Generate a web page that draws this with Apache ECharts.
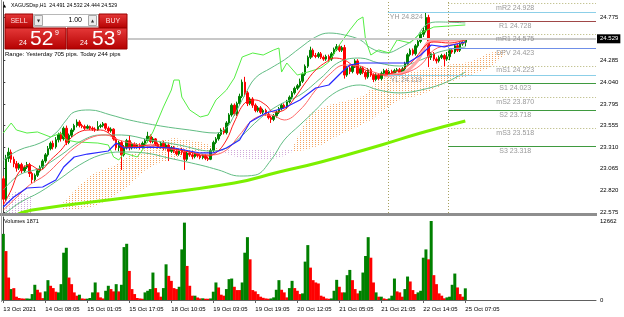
<!DOCTYPE html>
<html><head><meta charset="utf-8">
<script src="https://cdn.jsdelivr.net/npm/echarts@6/dist/echarts.min.js"></script>
<style>html,body{margin:0;padding:0;background:#fff}#c{width:624px;height:317px}</style>
</head><body><div id="c"></div>
<script>
// ---------------- DATA ----------------
const tickLabels = ['13 Oct 2021','14 Oct 08:05','15 Oct 01:05','15 Oct 17:05','18 Oct 10:05','19 Oct 03:05','19 Oct 19:05','20 Oct 12:05','21 Oct 05:05','21 Oct 21:05','22 Oct 14:05','25 Oct 07:05'];
const barsPerLabel = 16;
const priceTicks = [24.775,24.285,24.040,23.795,23.555,23.310,23.065,22.820,22.575];
const lastPrice = 24.529;
const volumeMaxLabel = 12662;
// candles: [open, close, low, high]
const candles = [
[22.95,22.72,22.66,22.98],[22.72,23.18,22.70,23.22],[23.18,23.25,23.14,23.30],[23.25,23.17,23.13,23.28],[23.17,23.12,23.08,23.20],
[23.12,23.07,23.03,23.15],[23.07,23.11,23.05,23.13],[23.11,23.04,23.01,23.13],[23.04,23.08,23.02,23.10],[23.08,23.11,23.06,23.14],
[23.11,23.01,22.97,23.13],[23.01,22.94,22.90,23.03],[22.94,22.99,22.91,23.01],[22.99,23.04,22.97,23.06],[23.04,23.08,23.02,23.10],
[23.08,23.15,23.06,23.17],[23.15,23.22,23.13,23.24],[23.22,23.29,23.20,23.32],[23.29,23.35,23.27,23.37],[23.35,23.31,23.28,23.38],
[23.31,23.39,23.29,23.42],[23.39,23.45,23.36,23.47],[23.45,23.40,23.37,23.48],[23.40,23.52,23.38,23.54],[23.52,23.36,23.33,23.55],
[23.36,23.44,23.34,23.46],[23.44,23.50,23.42,23.52],[23.50,23.55,23.48,23.57],[23.55,23.59,23.53,23.62],[23.59,23.55,23.53,23.61],
[23.55,23.54,23.52,23.57],[23.54,23.52,23.50,23.56],[23.52,23.54,23.51,23.56],[23.54,23.52,23.50,23.55],[23.52,23.51,23.49,23.54],
[23.51,23.50,23.48,23.53],[23.50,23.54,23.49,23.60],[23.54,23.55,23.52,23.57],[23.55,23.57,23.53,23.59],[23.57,23.52,23.50,23.58],
[23.52,23.49,23.47,23.54],[23.49,23.51,23.47,23.53],[23.51,23.40,23.38,23.52],[23.40,23.30,23.27,23.42],[23.30,23.36,23.26,23.38],
[23.36,23.22,23.05,23.38],[23.22,23.30,23.20,23.33],[23.30,23.38,23.28,23.40],[23.38,23.30,23.27,23.44],[23.30,23.34,23.28,23.36],
[23.34,23.31,23.29,23.36],[23.31,23.33,23.29,23.35],[23.33,23.31,23.28,23.35],[23.31,23.35,23.29,23.37],[23.35,23.38,23.33,23.40],
[23.38,23.43,23.36,23.48],[23.43,23.37,23.35,23.45],[23.37,23.40,23.35,23.42],[23.40,23.34,23.32,23.41],[23.34,23.31,23.29,23.36],
[23.31,23.35,23.29,23.37],[23.35,23.30,23.27,23.38],[23.30,23.33,23.28,23.35],[23.33,23.26,23.15,23.35],[23.26,23.30,23.24,23.32],
[23.30,23.26,23.24,23.32],[23.26,23.23,23.21,23.28],[23.23,23.27,23.21,23.29],[23.27,23.25,23.22,23.30],[23.25,23.17,23.05,23.28],
[23.17,23.24,23.15,23.26],[23.24,23.22,23.20,23.26],[23.22,23.20,23.17,23.24],[23.20,23.23,23.18,23.25],[23.23,23.21,23.19,23.25],
[23.21,23.19,23.17,23.23],[23.19,23.21,23.17,23.23],[23.21,23.18,23.16,23.23],[23.18,23.17,23.15,23.20],[23.17,23.27,23.16,23.29],
[23.27,23.36,23.25,23.38],[23.36,23.40,23.34,23.42],[23.40,23.45,23.38,23.47],[23.45,23.50,23.43,23.52],[23.50,23.47,23.45,23.53],
[23.47,23.58,23.45,23.60],[23.58,23.67,23.56,23.69],[23.67,23.78,23.65,23.80],[23.78,23.68,23.66,23.80],[23.68,23.80,23.66,23.82],
[23.80,23.88,23.78,23.91],[23.88,24.04,23.86,24.07],[24.04,23.92,23.88,24.10],[23.92,23.80,23.77,23.94],[23.80,23.85,23.78,23.87],
[23.85,23.78,23.75,23.87],[23.78,23.72,23.70,23.80],[23.72,23.75,23.70,23.77],[23.75,23.70,23.68,23.77],[23.70,23.72,23.68,23.74],
[23.72,23.68,23.66,23.74],[23.68,23.64,23.62,23.70],[23.64,23.62,23.58,23.66],[23.62,23.66,23.60,23.68],[23.66,23.70,23.64,23.72],
[23.70,23.74,23.68,23.76],[23.74,23.78,23.72,23.80],[23.78,23.76,23.74,23.80],[23.76,23.82,23.74,23.84],[23.82,23.87,23.80,23.89],
[23.87,23.92,23.85,23.94],[23.92,23.97,23.90,23.99],[23.97,24.00,23.95,24.02],[24.00,24.05,23.98,24.08],[24.05,24.13,24.03,24.15],
[24.13,24.22,24.11,24.24],[24.22,24.32,24.20,24.34],[24.32,24.40,24.30,24.44],[24.40,24.34,24.32,24.42],[24.34,24.33,24.31,24.37],
[24.33,24.36,24.31,24.38],[24.36,24.32,24.30,24.38],[24.32,24.30,24.28,24.34],[24.30,24.33,24.28,24.35],[24.33,24.30,24.27,24.35],
[24.30,24.36,24.28,24.38],[24.36,24.41,24.34,24.43],[24.41,24.44,24.39,24.47],[24.44,24.40,24.38,24.46],[24.40,24.43,24.38,24.45],
[24.43,24.12,24.08,24.46],[24.12,24.20,24.10,24.22],[24.20,24.16,24.13,24.22],[24.16,24.22,24.14,24.24],[24.22,24.28,24.20,24.30],
[24.28,24.14,24.12,24.30],[24.14,24.20,24.12,24.22],[24.20,24.15,24.13,24.22],[24.15,24.10,24.07,24.17],[24.10,24.18,24.08,24.20],
[24.18,24.12,24.10,24.20],[24.12,24.07,24.04,24.14],[24.07,24.12,24.05,24.14],[24.12,24.08,24.06,24.14],[24.08,24.14,24.06,24.16],
[24.14,24.17,24.12,24.19],[24.17,24.13,24.12,24.19],[24.13,24.16,24.12,24.18],[24.16,24.13,24.119,24.18],[24.13,24.17,24.12,24.19],
[24.17,24.18,24.15,24.20],[24.18,24.15,24.13,24.20],[24.15,24.19,24.13,24.21],[24.19,24.25,24.17,24.27],[24.25,24.35,24.23,24.37],
[24.35,24.40,24.33,24.42],[24.40,24.36,24.34,24.42],[24.36,24.45,24.34,24.47],[24.45,24.50,24.43,24.52],[24.50,24.58,24.48,24.60],
[24.58,24.62,24.55,24.66],[24.62,24.77,24.60,24.824],[24.77,24.32,24.21,24.80],[24.32,24.36,24.29,24.38],[24.36,24.30,24.28,24.38],
[24.30,24.28,24.25,24.32],[24.28,24.32,24.26,24.34],[24.32,24.34,24.30,24.36],[24.34,24.30,24.22,24.36],[24.30,24.326,24.28,24.38],
[24.326,24.40,24.288,24.42],[24.40,24.38,24.36,24.42],[24.38,24.45,24.36,24.47],[24.45,24.40,24.38,24.47],[24.40,24.47,24.38,24.49],
[24.47,24.491,24.45,24.52],[24.491,24.529,24.444,24.532]
];
const volumes = [
10600,7840,3600,1750,1900,530,320,250,220,250,
210,950,2440,1640,1220,300,1380,3180,2280,1910,
1330,1220,2540,7580,8370,3600,2540,1220,690,850,
250,200,210,320,1220,2810,1220,420,250,1480,
2280,1750,1380,2540,1380,2440,8480,9010,4660,1750,
950,320,250,200,1220,1480,1750,4400,1910,1220,
530,1910,5720,3870,3070,1910,1750,2120,8110,12400,
5460,2280,690,690,400,250,270,200,200,250,
1330,2810,2010,850,690,1750,3340,3440,2120,1590,
1590,2810,7580,10070,6520,1590,1380,950,530,350,
250,200,250,420,1640,3180,1640,1220,420,1910,
3070,1910,1480,950,1060,6150,8800,5190,3180,2810,
2650,690,530,250,200,250,1480,3230,2120,1220,
1220,3980,4820,3180,1750,1060,1480,4400,7050,10070,
6780,2810,1220,530,530,250,150,250,690,3440,
1380,1220,530,1750,3760,2970,1590,950,1220,1480,
6780,8110,6520,12662,3980,2540,1060,690,270,420,
530,2440,4240,2010,950,530,1871
];
const volDir = ('GRRGRRRRRG'+'GGGRRRGGRR'+'RGGGGRRRRG'+'RRGGGGRRRG'+'GRRGRGGGRR'+'RRRRGGGGRR'+'RGGRRRRGGG'+'RRRGRRGRRG'+'GGRRRGGGRR'+'RGGGRRRRRR'+'RRGGGGRRRG'+'GRRRGGGRRR'+'RRRRRGGGRR'+'GGGRRRGGGG'+'RRGRGRRGGG'+'RRRGGRRRGG'+'GGRGRRRRRG'+'GGGRRRG').split('');

// indicators: [barIndex, price]
const ma200 = [[4,22.530],[11,22.597],[49,22.744],[88,22.902],[105,23.026],[121,23.139],[144,23.331],[159,23.466],[176,23.601]];
const limeLine = [[0,23.466],[3,23.579],[5,23.500],[9,23.466],[13,23.478],[18,23.421],[22,23.466],[24,23.387],[28,23.365],[36,23.353],[40,23.331],[42,23.196],[44,23.162],[46,23.241],[51,23.196],[53,23.274],[57,23.478],[61,23.760],[64,23.951],[65,24.064],[67,24.064],[68,23.872],[71,23.726],[75,23.647],[78,23.669],[81,23.839],[85,23.951],[88,24.087],[91,24.324],[95,24.369],[99,24.346],[103,24.403],[105,24.425],[106,24.154],[108,24.256],[112,24.120],[116,24.154],[121,24.200],[124,24.267],[128,24.459],[132,24.628],[135,24.741],[137,24.775],[138,24.516],[140,24.346],[143,24.403],[147,24.369],[150,24.516],[155,24.482],[159,24.594],[164,24.662],[176,24.685]];
const bbUpper = [[0,23.162],[6,23.274],[14,23.353],[20,23.466],[24,23.613],[27,23.703],[33,23.726],[41,23.669],[48,23.613],[60,23.545],[71,23.500],[81,23.466],[85,23.523],[88,23.669],[92,23.895],[96,24.087],[102,24.200],[107,24.290],[113,24.425],[119,24.549],[124,24.594],[130,24.572],[136,24.516],[140,24.425],[146,24.369],[151,24.425],[157,24.538],[161,24.685],[166,24.719],[176,24.708]];
const bbMiddle = [[0,22.823],[6,22.992],[14,23.071],[22,23.218],[29,23.365],[37,23.444],[45,23.444],[56,23.387],[67,23.331],[79,23.263],[85,23.297],[90,23.410],[98,23.636],[105,23.782],[113,23.895],[121,24.087],[128,24.267],[136,24.312],[143,24.256],[151,24.222],[159,24.290],[166,24.380],[176,24.437]];
const bbLower = [[0,22.541],[6,22.676],[14,22.801],[22,22.959],[29,23.105],[37,23.218],[45,23.252],[54,23.241],[63,23.184],[75,23.105],[82,23.049],[90,22.981],[96,22.992],[102,23.162],[107,23.387],[113,23.557],[119,23.726],[124,23.872],[130,23.974],[136,24.008],[143,23.951],[151,23.918],[159,23.951],[168,24.030],[176,24.154]];
const blueLine = [[0,22.631],[4,22.744],[9,22.846],[15,22.857],[20,22.936],[23,23.083],[27,23.196],[32,23.229],[40,23.263],[43,23.353],[46,23.297],[56,23.308],[65,23.297],[75,23.241],[80,23.241],[85,23.297],[90,23.387],[94,23.590],[100,23.692],[107,23.748],[113,23.839],[119,23.974],[124,24.008],[129,24.154],[132,24.233],[136,24.256],[154,24.256],[159,24.346],[163,24.459],[168,24.437],[176,24.493]];
const redFast = [[0,22.653],[3,22.823],[6,23.026],[10,23.105],[14,23.049],[18,23.162],[22,23.274],[25,23.387],[29,23.478],[33,23.500],[37,23.500],[41,23.444],[44,23.331],[48,23.308],[56,23.331],[63,23.297],[71,23.252],[77,23.207],[81,23.241],[85,23.387],[88,23.590],[92,23.805],[96,23.839],[100,23.782],[103,23.703],[107,23.726],[111,23.861],[115,24.030],[119,24.177],[123,24.267],[126,24.312],[130,24.290],[134,24.211],[138,24.177],[142,24.120],[145,24.120],[149,24.154],[153,24.200],[157,24.312],[161,24.459],[164,24.493],[170,24.482],[176,24.516]];
const redSlow = [[0,22.597],[4,22.710],[10,22.880],[16,22.992],[22,23.162],[27,23.297],[33,23.410],[39,23.444],[44,23.387],[52,23.331],[61,23.297],[71,23.252],[79,23.218],[85,23.274],[90,23.444],[96,23.636],[102,23.669],[107,23.613],[113,23.726],[119,23.951],[124,24.120],[130,24.233],[136,24.222],[141,24.154],[147,24.120],[153,24.143],[159,24.233],[164,24.403],[170,24.459],[176,24.482]];
const salmonLine = [[145,24.109],[153,24.154],[158,24.290],[162,24.493],[168,24.516],[176,24.516]];
// cloud outlines: top edge then bottom edge (reversed)
const cloudOrange1 = [[22,22.653],[28,22.846],[34,23.004],[42,23.094],[47,23.196],[52,23.274],[59,23.376],[65,23.410],[75,23.365],[81,23.308],[83,23.274],
  [83,23.252],[75,23.207],[67,23.184],[60,23.139],[54,23.049],[48,22.880],[42,22.744],[35,22.642],[27,22.597],[22,22.597]];
const cloudOrange2 = [[110,23.285],[113,23.478],[117,23.692],[124,23.782],[132,23.839],[138,23.895],[142,24.042],[147,24.109],[159,24.177],[169,24.233],[178,24.267],[185,24.369],[191,24.403],
  [191,24.346],[185,24.200],[178,24.120],[170,24.042],[159,23.895],[151,23.839],[145,23.726],[140,23.613],[134,23.523],[128,23.444],[121,23.331],[115,23.274],[110,23.252]];
const cloudLav1 = [[1,22.767],[4.5,22.801],[8,22.789],[11,22.744],[11,22.55],[1,22.55]];
const cloudLav2 = [[83,23.274],[90,23.285],[98,23.274],[105,23.263],[110,23.285],[110,23.252],[105,23.184],[98,23.162],[90,23.184],[83,23.252]];
// pivots
const pivotNames = ['mR2','R1','mR1','DPV','mS1','S1','mS2','S2','mS3','S3'];
const pivotValues = [24.928,24.728,24.575,24.423,24.223,24.023,23.870,23.718,23.518,23.318];
const yesterdayHigh = 24.824, yesterdayLow = 24.119;
const dayStarts = [146.5, 169.5];

// ---------------- LAYOUT ----------------
const FONT = 'Liberation Sans';
const BAR_PX = 2.625, PLOT_W = 594;
const XMIN = -0.5, XMAX = XMIN + PLOT_W / BAR_PX;
const YMAX = 24.9442, YMIN = 22.5638;
const VMAX = volumeMaxLabel * 83 / 79;
const tickIdx = tickLabels.map((_, k) => k * barsPerLabel);

function dotPattern(color) {
  const c = document.createElement('canvas'); c.width = 3; c.height = 2;
  const g = c.getContext('2d'); g.fillStyle = color; g.fillRect(0, 0, 1, 1); return c;
}
function cloud(points, color) {
  const pat = dotPattern(color);
  return { type: 'custom', coordinateSystem: 'cartesian2d', xAxisIndex: 0, yAxisIndex: 0, z: 1, silent: true, clip: true,
    data: [[100, 23.5]],
    renderItem: (params, api) => ({ type: 'polygon', shape: { points: points.map(p => api.coord(p)) },
      style: { fill: { image: pat, repeat: 'repeat' }, stroke: null } }) };
}
function line(data, color, width, smooth, z) {
  return { type: 'line', xAxisIndex: 0, yAxisIndex: 0, data, showSymbol: false, symbol: 'none', silent: true,
    smooth: smooth, z: z || 4, lineStyle: { color, width } };
}

const pivotStyle = n => n[0] === 'm' ? { color: '#b0b070', type: [1, 2], width: 1 }
  : n[0] === 'R' ? { color: '#a04848', type: 'solid', width: 1 }
  : n[0] === 'S' ? { color: '#3f9a3f', type: 'solid', width: 1 }
  : { color: '#6f8fe8', type: 'solid', width: 1 };

const markData = [];
dayStarts.forEach(x => markData.push({ xAxis: x, lineStyle: { color: '#a8a060', type: [1, 2], width: 1 }, label: { show: false } }));
pivotNames.forEach((n, k) => markData.push([{ coord: [dayStarts[1], pivotValues[k]], lineStyle: pivotStyle(n), label: { show: false } }, { coord: [XMAX, pivotValues[k]] }]));
[yesterdayHigh, yesterdayLow].forEach(v => markData.push([{ coord: [dayStarts[0], v], lineStyle: { color: '#8ccfe8', type: 'solid', width: 1.2 }, label: { show: false } }, { coord: [XMAX, v] }]));
markData.push([{ coord: [47.5, lastPrice], lineStyle: { color: '#c8c8c8', type: 'solid', width: 2 },
  label: { show: true, position: 'end', distance: 1, formatter: lastPrice.toFixed(3), backgroundColor: '#000', color: '#fff', fontSize: 6, fontFamily: FONT, padding: [2, 2, 1, 3] } }, { coord: [XMAX, lastPrice] }]);

const pivotLabelData = pivotNames.map((n, k) => [195, pivotValues[k], n]);
pivotLabelData.push([153.5, yesterdayHigh, 'YH'], [153.5, yesterdayLow, 'YL']);

const chart = echarts.init(document.getElementById('c'), null, { renderer: 'canvas' });
const redGrad = () => new echarts.graphic.LinearGradient(0, 0, 0, 1, [{ offset: 0, color: '#e63a3a' }, { offset: 1, color: '#b40000' }]);
const txt = (x, y, text, font, fill, align) => ({ type: 'text', z: 101, silent: true, style: { x, y, text, font, fill, align: align || 'left', verticalAlign: 'middle', textAlign: align || 'left', textVerticalAlign: 'middle' } });

chart.setOption({
  animation: false,
  backgroundColor: '#ffffff',
  grid: [{ left: 2, top: 2, width: PLOT_W, height: 211 }, { left: 2, top: 217, width: PLOT_W, height: 83 }],
  xAxis: [
    { type: 'value', gridIndex: 0, min: XMIN, max: XMAX, show: false },
    { type: 'value', gridIndex: 1, min: XMIN, max: XMAX, splitLine: { show: false },
      axisLine: { show: true, lineStyle: { color: '#606060' } },
      axisTick: { show: true, customValues: tickIdx, length: 3, lineStyle: { color: '#606060' } },
      axisLabel: { customValues: tickIdx, formatter: v => tickLabels[Math.round(v / barsPerLabel)], align: 'left', fontSize: 6, color: '#000', margin: 6, fontFamily: FONT } }
  ],
  yAxis: [
    { type: 'value', gridIndex: 0, position: 'right', min: YMIN, max: YMAX, splitLine: { show: false }, scale: true,
      axisLine: { show: true, lineStyle: { color: '#404040' } },
      axisTick: { show: true, customValues: priceTicks, length: 2, lineStyle: { color: '#404040' } },
      axisLabel: { customValues: priceTicks, formatter: v => v.toFixed(3), fontSize: 6, color: '#000', margin: 4, fontFamily: FONT } },
    { type: 'value', gridIndex: 1, position: 'right', min: 0, max: VMAX, splitLine: { show: false },
      axisLine: { show: true, lineStyle: { color: '#404040' } },
      axisTick: { show: false },
      axisLabel: { customValues: [0, volumeMaxLabel], formatter: v => String(Math.round(v)), fontSize: 6, color: '#000', margin: 4, fontFamily: FONT } }
  ],
  series: [
    cloud(cloudLav1, '#d0a8d8'), cloud(cloudLav2, '#d0a8d8'),
    cloud(cloudOrange1, '#f4a460'), cloud(cloudOrange2, '#f4a460'),
    { type: 'candlestick', xAxisIndex: 0, yAxisIndex: 0, z: 3, silent: true, barWidth: 2,
      data: candles.map((c, i) => [i, c[0], c[1], c[2], c[3]]), encode: { x: 0, y: [1, 2, 3, 4] },
      itemStyle: { color: '#008000', color0: '#ff0000', borderColor: '#008000', borderColor0: '#ff0000', borderWidth: 1 },
      markLine: { silent: true, symbol: ['none', 'none'], animation: false, data: markData } },
    line(bbUpper, '#62bd84', 1, 0.4), line(bbMiddle, '#62bd84', 1, 0.4), line(bbLower, '#62bd84', 1, 0.4),
    line(limeLine, '#55ee44', 1, false),
    line(salmonLine, '#ffa8a8', 3, 0.3),
    line(redSlow, '#ff6464', 1, 0.4), line(redFast, '#ff1a1a', 1, 0.4),
    line(blueLine, '#2828ff', 1.2, false),
    line(ma200, '#7cf000', 3, 0.5, 5),
    { type: 'scatter', xAxisIndex: 0, yAxisIndex: 0, symbolSize: 0, silent: true, z: 6, data: pivotLabelData,
      label: { show: true, position: 'bottom', distance: 1, fontSize: 7, fontFamily: FONT, color: '#808080',
        formatter: p => p.data[2] + ' ' + p.data[1].toFixed(3) } },
    { type: 'bar', xAxisIndex: 1, yAxisIndex: 1, barWidth: 3, silent: true,
      data: volumes.map((v, i) => [i, v]),
      itemStyle: { color: p => volDir[p.dataIndex] === 'G' ? '#008000' : '#ff0000' } }
  ],
  graphic: [
    { type: 'rect', z: 100, silent: true, shape: { x: 0, y: 213, width: 597, height: 3 }, style: { fill: '#8e8e8e' } },
    { type: 'rect', z: 100, silent: true, shape: { x: 1, y: 0, width: 1, height: 302 }, style: { fill: '#a0a0a0' } },
    txt(3, 6, '▲', '4px DejaVu Sans', '#000'),
    txt(11, 6, 'XAGUSDsp,H1  24.491 24.532 24.444 24.529', '5.2px ' + FONT, '#000'),
    { type: 'rect', z: 100, silent: true, shape: { x: 5, y: 14, width: 28, height: 14 }, style: { fill: redGrad(), stroke: '#9a0000' } },
    txt(19, 21, 'SELL', '7px ' + FONT, '#ffdede', 'center'),
    { type: 'rect', z: 100, silent: true, shape: { x: 33.5, y: 14.5, width: 65, height: 12 }, style: { fill: '#fff', stroke: '#b8b8b8' } },
    { type: 'rect', z: 100, silent: true, shape: { x: 34.5, y: 15.5, width: 8, height: 10 }, style: { fill: '#ececec', stroke: '#a8a8a8' } },
    { type: 'rect', z: 100, silent: true, shape: { x: 88.5, y: 15.5, width: 8, height: 10 }, style: { fill: '#ececec', stroke: '#a8a8a8' } },
    txt(38.5, 20.5, '▼', '4px DejaVu Sans', '#303030', 'center'),
    txt(92.5, 20.5, '▲', '4px DejaVu Sans', '#303030', 'center'),
    txt(82, 20.5, '1.00', '7px ' + FONT, '#000', 'right'),
    { type: 'rect', z: 100, silent: true, shape: { x: 99, y: 14, width: 28, height: 14 }, style: { fill: redGrad(), stroke: '#9a0000' } },
    txt(113, 21, 'BUY', '7px ' + FONT, '#ffdede', 'center'),
    { type: 'rect', z: 100, silent: true, shape: { x: 5, y: 28, width: 61, height: 21 }, style: { fill: redGrad(), stroke: '#9a0000' } },
    { type: 'rect', z: 100, silent: true, shape: { x: 67, y: 28, width: 60, height: 21 }, style: { fill: redGrad(), stroke: '#9a0000' } },
    txt(19, 43.5, '24', '7px ' + FONT, '#fff'),
    txt(30, 39.5, '52', '21px ' + FONT, '#fff'),
    txt(55, 33.5, '9', '7px ' + FONT, '#fff'),
    txt(80, 43.5, '24', '7px ' + FONT, '#fff'),
    txt(92, 39.5, '53', '21px ' + FONT, '#fff'),
    txt(117, 33.5, '9', '7px ' + FONT, '#fff'),
    txt(5, 54, 'Range: Yesterday 705 pips. Today 244 pips', '6px ' + FONT, '#000'),
    txt(4, 221, 'Volumes ' + volumes[volumes.length - 1], '5.5px ' + FONT, '#000')
  ]
});
</script></body></html>
